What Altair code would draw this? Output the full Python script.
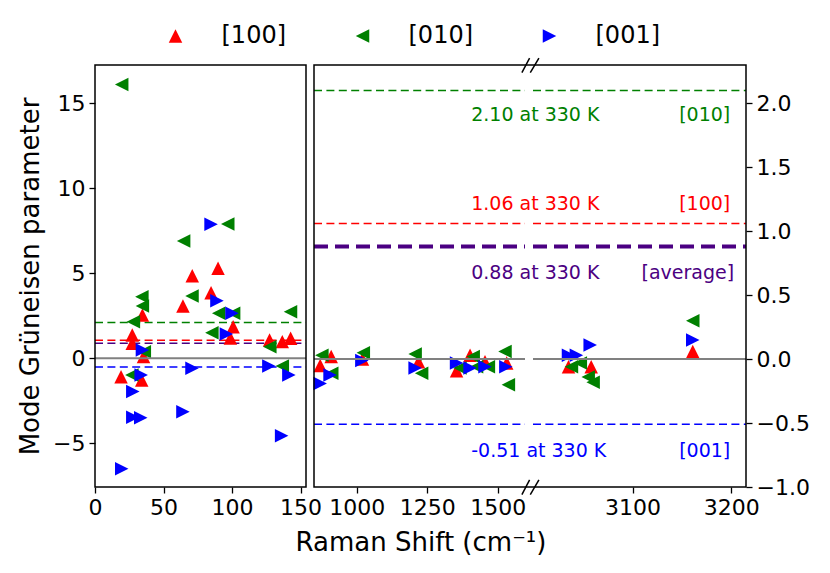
import altair as alt
import pandas as pd

# ---------------- data ----------------
DIRECTIONS = ["[100]", "[010]", "[001]"]
DIR_COLORS = ["red", "green", "blue"]

# low-frequency modes (left panel, left axis)
L100_X = [19, 27.2, 27.2, 34.6, 35.4, 34.1, 64.2, 71, 84.7, 89.8, 100.8, 98.8, 127.4, 136.7, 142.8]
L100_G = [-1.08, 1.37, 0.88, 2.55, 0.1, -1.28, 3.08, 4.86, 3.86, 5.3, 1.86, 1.2, 1.08, 0.98, 1.18]
L010_X = [19.5, 26.9, 28, 34.2, 34.6, 36, 64.7, 70.8, 85.3, 90.3, 96.9, 101.2, 127.6, 136.7, 142.7]
L010_G = [16.1, -0.98, 2.15, 3.62, 3.08, 0.39, 6.9, 3.66, 1.5, 2.65, 7.9, 2.65, 0.68, -0.45, 2.74]
L001_X = [19.5, 27.6, 27.6, 33.4, 33.7, 34.6, 64.2, 70.8, 84.7, 89, 95.9, 100, 126.9, 136.2, 141.5]
L001_G = [-6.5, -1.96, -3.47, -3.49, -0.98, 0.49, -3.14, -0.59, 7.88, 3.39, 1.43, 2.65, -0.45, -4.55, -0.98]

# high-frequency modes (right panel, right axis)
R100_X = [870, 909, 1020, 1219, 1354, 1402, 1455, 1532, 3035, 3058, 3161]
R100_G = [-0.05, 0.02, 0.0, -0.02, -0.09, 0.03, -0.02, -0.03, -0.06, -0.06, 0.06]
R010_X = [876, 911, 1023, 1207, 1230, 1366, 1413, 1425, 1467, 1526, 1538, 3038, 3047, 3055, 3060, 3161]
R010_G = [0.03, -0.11, 0.05, 0.04, -0.11, -0.07, 0.02, -0.06, -0.06, 0.06, -0.2, -0.06, -0.03, -0.14, -0.18, 0.3]
R001_X = [870, 905, 1018, 1207, 1354, 1402, 1455, 1529, 3035, 3043, 3057, 3161]
R001_G = [-0.19, -0.125, -0.01, -0.07, -0.03, -0.07, -0.06, -0.06, 0.03, 0.03, 0.11, 0.15]

# averaged Grüneisen parameters
AVG_NAMES = ["[010]", "[100]", "[average]", "[001]"]
AVG_VALUES = [2.10, 1.06, 0.88, -0.51]
AVG_COLORS = ["green", "red", "indigo", "blue"]
AVG_TEMP = "330 K"

# axes
X_TICKS = [0, 50, 100, 150, 1000, 1250, 1500, 3100, 3200]
YL_TICKS = [-5, 0, 5, 10, 15]
YR_TICKS = [-1.0, -0.5, 0.0, 0.5, 1.0, 1.5, 2.0]
LEFT_LIM = [0, 154]
SEG1_LIM = [848, 1597]
SEG2_LIM = [2999, 3215]
YL_LIM = [-7.57, 17.25]
YR_LIM = [-1.0, 2.3]

# ---------------- layout / style ----------------
X_RANGE = [0, 211, 219, 430, 438, 651]
LABEL_G = [1.862, 1.168, 0.63, -0.763]
LABEL_LEFT_X = 1406
LABEL_RIGHT_X = [3199, 3199, 3203, 3199]
BREAK_X = [(1586, 2403), (2526, 3005)]
BREAK_TOP = (2.24, 2.354)
BREAK_BOT = (-1.06, -0.945)

FONT = "DejaVu Sans"
SHAPES = ["M0,-1L1,1L-1,1Z", "M-1,0L1,-1L1,1Z", "M1,0L-1,-1L-1,1Z"]

x_scale = alt.Scale(domain=LEFT_LIM + SEG1_LIM + SEG2_LIM, range=X_RANGE, zero=False, nice=False)
x_axis = alt.Axis(values=X_TICKS, format="d", title="Raman Shift (cm⁻¹)", domain=False, grid=False,
                  tickSize=6, tickWidth=1.3, tickColor="black", labelFontSize=22, labelColor="black",
                  labelPadding=4, labelFlush=False, labelOverlap=False, titleFontSize=26,
                  titleFontWeight="normal", titleColor="black", titlePadding=11)
yl_scale = alt.Scale(domain=YL_LIM, zero=False, nice=False)
yl_axis = alt.Axis(values=YL_TICKS, format="d", title="Mode Grüneisen parameter", orient="left",
                   domain=False, grid=False, tickSize=6, tickWidth=1.3, tickColor="black",
                   labelFontSize=22, labelColor="black", labelPadding=4, titleFontSize=26,
                   titleFontWeight="normal", titleColor="black", titlePadding=9)
yr_scale = alt.Scale(domain=YR_LIM, zero=False, nice=False)
yr_axis = alt.Axis(values=YR_TICKS, format=".1f", title=None, orient="right", domain=False, grid=False,
                   tickSize=6, tickWidth=1.3, tickColor="black", labelFontSize=22, labelColor="black",
                   labelPadding=4)

legend = alt.Legend(orient="none", legendX=68.5, legendY=-41, direction="horizontal", title=None,
                    labelFontSize=24, labelFont=FONT, labelColor="black", labelOffset=34,
                    columnPadding=64, symbolSize=182, symbolStrokeWidth=0, symbolOpacity=1, padding=0)
color_enc = alt.Color("dir:N", scale=alt.Scale(domain=DIRECTIONS, range=DIR_COLORS), legend=legend)
shape_enc = alt.Shape("dir:N", scale=alt.Scale(domain=DIRECTIONS, range=SHAPES), legend=legend)


def X():
    return alt.X("x:Q", scale=x_scale, axis=x_axis)


def frame(xs, gs, d):
    return pd.DataFrame({"x": xs, "g": gs, "dir": d})


left_pts = pd.concat([frame(L100_X, L100_G, "[100]"), frame(L010_X, L010_G, "[010]"),
                      frame(L001_X, L001_G, "[001]")])
right_pts = pd.concat([frame(R100_X, R100_G, "[100]"), frame(R010_X, R010_G, "[010]"),
                       frame(R001_X, R001_G, "[001]")])


def group(pts, yscale, yaxis, segments, lim_y, thick_avg):
    Y = lambda f="g:Q": alt.Y(f, scale=yscale, axis=yaxis)
    layers = []
    for name, val, col in zip(AVG_NAMES, AVG_VALUES, AVG_COLORS):
        df = pd.DataFrame({"x": [s[0] for s in segments], "x2": [s[1] for s in segments],
                           "g": [val] * len(segments)})
        if thick_avg and name == "[average]":
            mk = alt.Chart(df).mark_rule(color=col, strokeWidth=4, strokeDash=[14, 7])
        else:
            mk = alt.Chart(df).mark_rule(color=col, strokeWidth=1.5, strokeDash=[8, 4.4])
        layers.append(mk.encode(x=X(), x2="x2:Q", y=Y()))
    layers.append(alt.Chart(pts).mark_point(filled=True, size=182, opacity=1, strokeWidth=0)
                  .encode(x=X(), y=Y(), color=color_enc, shape=shape_enc))
    zdf = pd.DataFrame({"x": [s[0] for s in segments], "x2": [s[1] for s in segments],
                        "g": [0.0] * len(segments)})
    layers.append(alt.Chart(zdf).mark_rule(color="gray", strokeWidth=2)
                  .encode(x=X(), x2="x2:Q", y=Y()))
    bdf = pd.DataFrame({"x": [segments[0][0]], "x2": [segments[-1][1]], "g": [lim_y[0]], "g2": [lim_y[1]]})
    layers.append(alt.Chart(bdf).mark_rect(fillOpacity=0, stroke="black", strokeWidth=1.5)
                  .encode(x=X(), x2="x2:Q", y=Y(), y2="g2:Q"))
    return layers


left_layers = group(left_pts, yl_scale, yl_axis, [tuple(LEFT_LIM)], YL_LIM, False)
right_layers = group(right_pts, yr_scale, yr_axis, [tuple(SEG1_LIM), tuple(SEG2_LIM)], YR_LIM, True)

YR = lambda f="g:Q": alt.Y(f, scale=yr_scale, axis=yr_axis)
for name, val, col, gy, rx in zip(AVG_NAMES, AVG_VALUES, AVG_COLORS, LABEL_G, LABEL_RIGHT_X):
    tdf = pd.DataFrame({"x": [LABEL_LEFT_X], "g": [gy], "t": [f"{val:.2f} at {AVG_TEMP}"]})
    right_layers.append(alt.Chart(tdf).mark_text(align="left", baseline="alphabetic", fontSize=19,
                                                 font=FONT, color=col)
                        .encode(x=X(), y=YR(), text="t:N"))
    tdf2 = pd.DataFrame({"x": [rx], "g": [gy], "t": [name]})
    right_layers.append(alt.Chart(tdf2).mark_text(align="right", baseline="alphabetic", fontSize=19,
                                                  font=FONT, color=col)
                        .encode(x=X(), y=YR(), text="t:N"))

for (y0, y1) in [BREAK_TOP, BREAK_BOT]:
    brk = pd.DataFrame({"x": [b[0] for b in BREAK_X], "x2": [b[1] for b in BREAK_X],
                        "g": [y0, y0], "g2": [y1, y1]})
    right_layers.append(alt.Chart(brk).mark_rule(color="black", strokeWidth=1.5)
                        .encode(x=X(), x2="x2:Q", y=YR(), y2="g2:Q"))

left = alt.layer(*left_layers)
right = alt.layer(*right_layers)

chart = (alt.layer(left, right)
         .resolve_scale(y="independent")
         .resolve_axis(y="independent")
         .properties(width=651, height=422, padding={"left": 9, "top": 16, "right": 5, "bottom": 5})
         .configure(font=FONT)
         .configure_view(stroke=None))

chart.save("out.html", embed_options={"renderer": "svg", "actions": False})
